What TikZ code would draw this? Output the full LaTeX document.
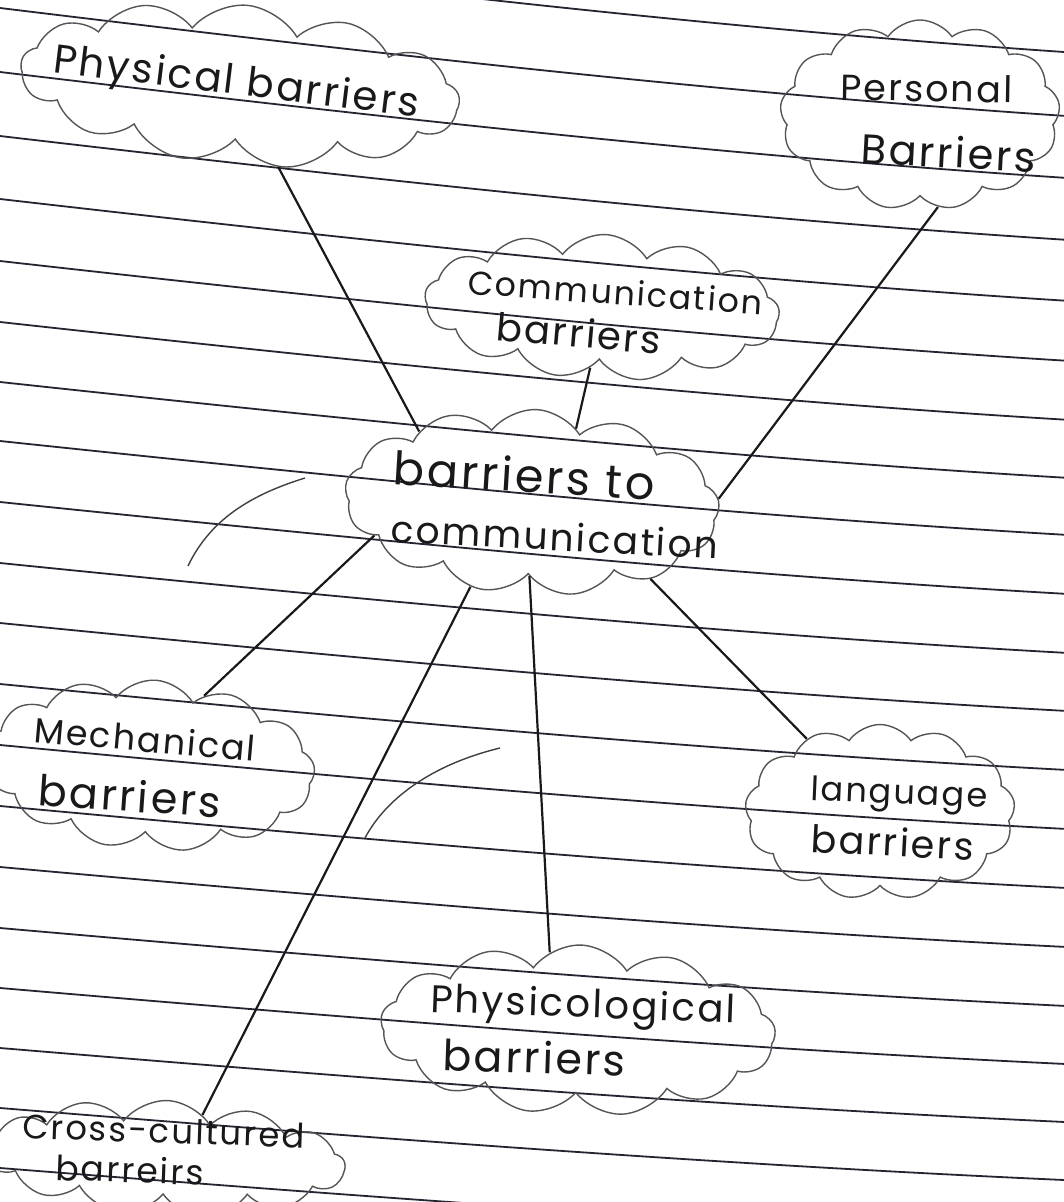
\documentclass[tikz,border=0pt]{standalone}
\usepackage{graphicx}
\usepackage{fontspec}
\setmainfont{Poppins}[LetterSpace=6]
\usetikzlibrary{shapes.symbols}
\definecolor{ink}{RGB}{25,25,25}
\definecolor{rulec}{RGB}{35,37,50}
\definecolor{cloudc}{RGB}{85,85,85}
\newcommand{\hwtext}[2]{\resizebox{#1}{!}{#2}}
\tikzset{
  ruled/.style={draw=rulec, line width=1.8pt},
  cloudbox/.style={cloud, cloud puffs=13, cloud puff arc=110, cloud ignores aspect,
    draw=cloudc, line width=1.4pt, inner sep=0pt},
  hw/.style={text=ink, inner sep=0pt, anchor=base west},
  conn/.style={draw=ink, line width=2.2pt},
  stray/.style={draw=black!75, line width=1.4pt}
}
\begin{document}
\begin{tikzpicture}[x=1pt,y=-1pt]
\path[use as bounding box, fill=white] (0,0) rectangle (1064,1202);
\begin{scope}
\clip (0,0) rectangle (1064,1202);
% ruled paper lines
\foreach \yy in {-58,8,72,136,199,261,322,382,441,502,563,623,684,745,806,867,928,988,1048,1108,1168} {
  \pgfmathsetmacro\rr{110-0.0326*(\yy+58)}
  \draw[ruled] (0,\yy) .. controls (355,\yy+0.4*\rr) and (710,\yy+0.78*\rr) .. (1064,\yy+\rr);
}
% clouds
\node[cloudbox, minimum width=440pt, minimum height=160pt, rotate=-5] (phys) at (240,85) {};
\node[cloudbox, minimum width=280pt, minimum height=190pt] (pers) at (920,115) {};
\node[cloudbox, minimum width=355pt, minimum height=145pt, rotate=-3] (comm) at (602,307) {};
\node[cloudbox, minimum width=375pt, minimum height=185pt, rotate=-3] (hub) at (532,502) {};
\node[cloudbox, minimum width=330pt, minimum height=170pt, rotate=-4] (mech) at (150,765) {};
\node[cloudbox, minimum width=270pt, minimum height=175pt] (lang) at (880,812) {};
\node[cloudbox, minimum width=395pt, minimum height=170pt, rotate=-2] (physico) at (578,1030) {};
\node[cloudbox, minimum width=360pt, minimum height=115pt, rotate=-3] (cross) at (165,1158) {};
% texts
\node[hw, rotate=-7] (tphys) at (52,72) {\hwtext{368pt}{Physical barriers}};
\node[hw, rotate=-1] (tpers1) at (840,100) {\hwtext{172pt}{Personal}};
\node[hw, rotate=-3] (tpers2) at (860,163) {\hwtext{175pt}{Barriers}};
\node[hw, rotate=-4] (tcomm1) at (467,294) {\hwtext{295pt}{Communication}};
\node[hw, rotate=-5] (tcomm2) at (495,340) {\hwtext{165pt}{barriers}};
\node[hw, rotate=-3.5] (thub1) at (392,484) {\hwtext{262pt}{barriers to}};
\node[hw, rotate=-3] (thub2) at (390,542) {\hwtext{328pt}{communication}};
\node[hw, rotate=-5] (tmech1) at (33,742) {\hwtext{222pt}{Mechanical}};
\node[hw, rotate=-4] (tmech2) at (37,805) {\hwtext{183pt}{barriers}};
\node[hw, rotate=-2.5] (tlang1) at (810,800) {\hwtext{177pt}{language}};
\node[hw, rotate=-3] (tlang2) at (810,852) {\hwtext{163pt}{barriers}};
\node[hw, rotate=-2] (tphysico1) at (430,1012) {\hwtext{305pt}{Physicological}};
\node[hw, rotate=-2] (tphysico2) at (442,1070) {\hwtext{183pt}{barriers}};
\node[hw, rotate=-2] (tcross1) at (22,1138) {\hwtext{282pt}{Cross-cultured}};
\node[hw, rotate=-2] (tcross2) at (55,1180) {\hwtext{148pt}{barreirs}};
% connectors
\draw[conn] (phys.-60) -- (hub.151);
\draw[conn] (comm.262) -- (hub.62);
\draw[conn] (pers.281) -- (hub.4);
\draw[conn] (hub.195) -- (mech.56);
\draw[conn] (hub.237) -- (cross.52);
\draw[conn] (hub.271) -- (physico.112);
\draw[conn] (hub.330) -- (lang.135);
% stray pen strokes
\draw[stray] (188,566) .. controls (210,520) and (250,495) .. (305,478);
\draw[stray] (365,838) .. controls (385,800) and (430,765) .. (500,748);
\end{scope}
\end{tikzpicture}
\end{document}
